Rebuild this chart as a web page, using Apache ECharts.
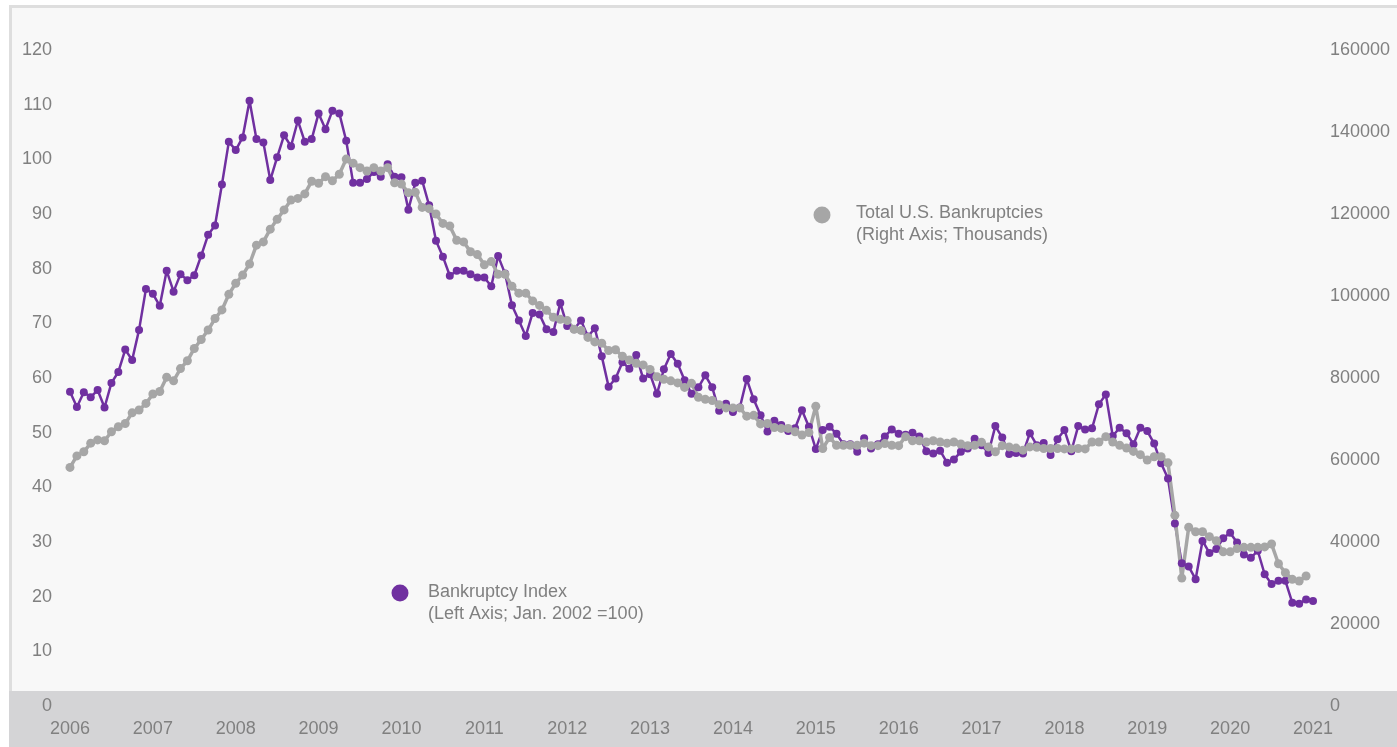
<!DOCTYPE html>
<html>
<head>
<meta charset="utf-8">
<script src="https://cdn.jsdelivr.net/npm/echarts@6/dist/echarts.min.js"></script>
<style>
  html, body { margin: 0; padding: 0; background: #fff; }
  #chart { width: 1397px; height: 747px; }
</style>
</head>
<body>
<div id="chart"></div>
<script>
const years = [2006, 2007, 2008, 2009, 2010, 2011, 2012, 2013, 2014, 2015, 2016, 2017, 2018, 2019, 2020, 2021]

// Bankruptcy index, monthly Jan 2006 - Jan 2021 (Jan. 2002 = 100)
const bankruptcyIndex = [
  57.5, 54.7, 57.4, 56.5, 57.8, 54.6, 59.1, 61.1, 65.2, 63.3, 68.8, 76.3,
  75.4, 73.2, 79.6, 75.8, 79.0, 77.9, 78.8, 82.4, 86.2, 87.9, 95.4, 103.2,
  101.7, 104.0, 110.7, 103.7, 103.1, 96.2, 100.4, 104.4, 102.4, 107.1, 103.2, 103.7,
  108.4, 105.5, 108.9, 108.4, 103.4, 95.7, 95.7, 96.4, 97.7, 96.8, 99.1, 96.8,
  96.7, 90.8, 95.7, 96.1, 91.6, 85.1, 82.2, 78.7, 79.6, 79.6, 79.0, 78.4,
  78.4, 76.8, 82.3, 79.1, 73.3, 70.5, 67.7, 71.9, 71.6, 68.9, 68.4, 73.7,
  69.5, 68.9, 70.5, 67.6, 69.1, 64.0, 58.4, 59.9, 62.9, 61.7, 64.2, 59.9,
  60.7, 57.1, 61.6, 64.4, 62.6, 59.6, 57.1, 58.3, 60.5, 58.3, 54.0, 55.3,
  53.8, 54.6, 59.8, 56.1, 53.2, 50.2, 52.2, 51.4, 50.3, 50.8, 54.1, 51.1,
  47.0, 50.5, 51.1, 49.8, 47.9, 47.9, 46.5, 49.0, 47.1, 47.9, 49.3, 50.6,
  49.8, 49.6, 50.0, 49.3, 46.6, 46.2, 46.7, 44.5, 45.1, 46.5, 47.1, 48.9,
  47.7, 46.3, 51.2, 49.1, 46.1, 46.3, 46.2, 49.9, 47.7, 48.1, 45.9, 48.8,
  50.5, 46.6, 51.2, 50.6, 50.8, 55.2, 57.0, 49.4, 50.9, 49.9, 47.9, 50.9,
  50.3, 48.0, 44.4, 41.6, 33.4, 26.1, 25.5, 23.2, 30.2, 28.0, 28.7, 30.7,
  31.7, 29.9, 27.7, 27.1, 28.4, 24.1, 22.3, 22.9, 22.9, 18.9, 18.7, 19.5,
  19.2
]

// Total U.S. bankruptcies, monthly Jan 2006 - Dec 2020
const totalBankruptcies = [
  58200, 61000, 62000, 64100, 64900, 64700, 66900, 68100, 68900, 71500, 72200, 73800,
  76100, 76700, 80200, 79300, 82300, 84200, 87200, 89400, 91700, 94500, 96600, 100400,
  103100, 105100, 107800, 112400, 113200, 116300, 118700, 121000, 123400, 123800, 124900, 128000,
  127500, 129100, 128100, 129700, 133400, 132400, 131300, 130500, 131300, 130500, 131300, 127600,
  127300, 125200, 125300, 121600, 121300, 120000, 117700, 117100, 113600, 113200, 110800, 110100,
  107600, 108400, 105300, 105300, 102400, 100700, 100700, 98800, 97700, 96500, 94800, 94300,
  94000, 91900, 91600, 89900, 88800, 88500, 86700, 86900, 85300, 84400, 83600, 83200,
  82100, 80300, 79700, 79300, 78800, 77700, 78700, 75300, 74800, 74500, 73500, 72700,
  72700, 72700, 70700, 70900, 68800, 68900, 67900, 67700, 67700, 66900, 66100, 66700,
  73100, 62800, 65500, 63600, 63600, 63600, 63600, 64100, 63500, 63500, 64000, 63600,
  63500, 65700, 64700, 64700, 64400, 64700, 64400, 64100, 64400, 63900, 63500, 63600,
  64300, 63200, 62000, 63500, 63200, 62900, 62400, 63200, 63100, 62800, 62800, 62800,
  62700, 62700, 62800, 62700, 64400, 64400, 65700, 64400, 63600, 62900, 62100, 61300,
  60000, 60800, 60800, 59300, 46500, 31200, 43600, 42500, 42500, 41300, 40300, 37600,
  37600, 38400, 38700, 38700, 38700, 38800, 39500, 34700, 32500, 30900, 30500, 31700
]

const months = []
years.forEach(y => {
  for (let m = 1; m <= 12; m++) {
    if (y === 2021 && m > 1) break
    months.push(y + "-" + String(m).padStart(2, "0"))
  }
})

const textColor = "#808080"
const fontFamily = "'Liberation Sans', Arial, sans-serif"

const chart = echarts.init(document.getElementById("chart"))

chart.setOption({
  animation: false,
  backgroundColor: "#fff",
  textStyle: { fontFamily: fontFamily },
  grid: { left: 70, right: 84, top: 50, bottom: 41 },
  graphic: [
    {
      type: "rect", z: -10, silent: true,
      shape: { x: 10.5, y: 6.5, width: 1390, height: 745 },
      style: { fill: "#f8f8f8", stroke: "#dedede", lineWidth: 3 }
    },
    {
      type: "rect", z: -9, silent: true,
      shape: { x: 9, y: 691, width: 1390, height: 60 },
      style: { fill: "#d4d4d6" }
    },
    {
      type: "circle", z: 10, silent: true,
      shape: { cx: 822, cy: 215, r: 8.5 },
      style: { fill: "#a6a6a6" }
    },
    {
      type: "text", z: 10, silent: true, x: 856, y: 202,
      style: {
        text: "Total U.S. Bankruptcies\n(Right Axis; Thousands)",
        fill: textColor, font: "18px " + fontFamily, lineHeight: 22
      }
    },
    {
      type: "circle", z: 10, silent: true,
      shape: { cx: 400, cy: 593, r: 8.5 },
      style: { fill: "#7030a0" }
    },
    {
      type: "text", z: 10, silent: true, x: 428, y: 581,
      style: {
        text: "Bankruptcy Index\n(Left Axis; Jan. 2002 =100)",
        fill: textColor, font: "18px " + fontFamily, lineHeight: 22
      }
    }
  ],
  xAxis: {
    type: "category",
    data: months,
    boundaryGap: false,
    axisLine: { show: false },
    axisTick: { show: false },
    splitLine: { show: false },
    axisLabel: {
      interval: 11,
      margin: 14,
      color: textColor,
      fontSize: 18,
      formatter: v => v.slice(0, 4)
    }
  },
  yAxis: [
    {
      type: "value",
      min: 0, max: 120, interval: 10,
      axisLine: { show: false },
      axisTick: { show: false },
      splitLine: { show: false },
      axisLabel: { color: textColor, fontSize: 18, margin: 18 }
    },
    {
      type: "value",
      min: 0, max: 160000, interval: 20000,
      axisLine: { show: false },
      axisTick: { show: false },
      splitLine: { show: false },
      axisLabel: { color: textColor, fontSize: 18, margin: 17, formatter: v => String(v) }
    }
  ],
  series: [
    {
      name: "Bankruptcy Index",
      type: "line",
      yAxisIndex: 0,
      data: bankruptcyIndex,
      symbol: "circle",
      symbolSize: 8,
      showAllSymbol: true,
      lineStyle: { color: "#7030a0", width: 2.5 },
      itemStyle: { color: "#7030a0" }
    },
    {
      name: "Total U.S. Bankruptcies",
      type: "line",
      yAxisIndex: 1,
      data: totalBankruptcies,
      symbol: "circle",
      symbolSize: 9,
      showAllSymbol: true,
      lineStyle: { color: "#a6a6a6", width: 3.5 },
      itemStyle: { color: "#a6a6a6" }
    }
  ]
})
</script>
</body>
</html>
